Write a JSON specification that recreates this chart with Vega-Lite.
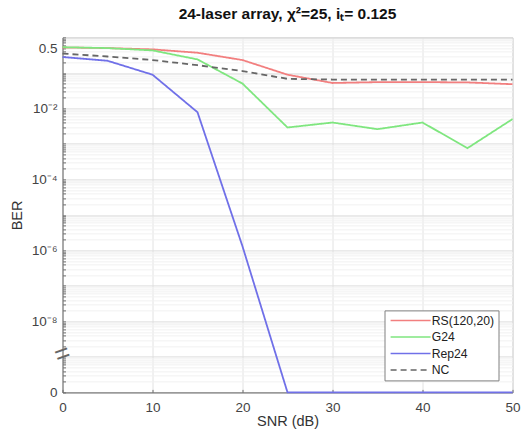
{
  "$schema": "https://vega.github.io/schema/vega-lite/v6.json",
  "width": 450,
  "height": 355,
  "autosize": {"type": "none"},
  "padding": {"left": 62.5, "top": 37.4, "right": 12.5, "bottom": 48.6},
  "background": "white",
  "title": {
    "text": "24-laser array, χ²=25, iₜ= 0.125",
    "font": "Liberation Sans",
    "fontSize": 15.5,
    "fontWeight": "bold",
    "color": "#111111",
    "anchor": "middle",
    "frame": "group",
    "baseline": "bottom",
    "offset": -7
  },
  "config": {
    "view": {"stroke": "#c8c8c8", "strokeWidth": 1},
    "axis": {
      "domainColor": "#6e6e6e",
      "tickColor": "#6e6e6e",
      "labelColor": "#444444",
      "titleColor": "#333333",
      "labelFont": "Liberation Sans",
      "titleFont": "Liberation Sans",
      "labelFontSize": 13.5,
      "titleFontSize": 14.5,
      "titleFontWeight": "normal",
      "labelFlush": false,
      "labelOverlap": false
    }
  },
  "layer": [
    {
      "data": {
        "values": [
          {"snr": 0, "ber": 0.52, "series": "RS(120,20)"},
          {"snr": 5, "ber": 0.5, "series": "RS(120,20)"},
          {"snr": 10, "ber": 0.46, "series": "RS(120,20)"},
          {"snr": 15, "ber": 0.37, "series": "RS(120,20)"},
          {"snr": 20, "ber": 0.23, "series": "RS(120,20)"},
          {"snr": 25, "ber": 0.089, "series": "RS(120,20)"},
          {"snr": 30, "ber": 0.052, "series": "RS(120,20)"},
          {"snr": 35, "ber": 0.055, "series": "RS(120,20)"},
          {"snr": 40, "ber": 0.055, "series": "RS(120,20)"},
          {"snr": 45, "ber": 0.054, "series": "RS(120,20)"},
          {"snr": 50, "ber": 0.048, "series": "RS(120,20)"},
          {"snr": 0, "ber": 0.53, "series": "G24"},
          {"snr": 5, "ber": 0.5, "series": "G24"},
          {"snr": 10, "ber": 0.43, "series": "G24"},
          {"snr": 15, "ber": 0.24, "series": "G24"},
          {"snr": 20, "ber": 0.05, "series": "G24"},
          {"snr": 25, "ber": 0.0029, "series": "G24"},
          {"snr": 30, "ber": 0.004, "series": "G24"},
          {"snr": 35, "ber": 0.0026, "series": "G24"},
          {"snr": 40, "ber": 0.004, "series": "G24"},
          {"snr": 45, "ber": 0.00076, "series": "G24"},
          {"snr": 50, "ber": 0.005, "series": "G24"},
          {"snr": 0, "ber": 0.28, "series": "Rep24"},
          {"snr": 5, "ber": 0.22, "series": "Rep24"},
          {"snr": 10, "ber": 0.089, "series": "Rep24"},
          {"snr": 15, "ber": 0.0078, "series": "Rep24"},
          {"snr": 20, "ber": 1.3e-6, "series": "Rep24"},
          {"snr": 25, "ber": 0, "series": "Rep24"},
          {"snr": 30, "ber": 0, "series": "Rep24"},
          {"snr": 35, "ber": 0, "series": "Rep24"},
          {"snr": 40, "ber": 0, "series": "Rep24"},
          {"snr": 45, "ber": 0, "series": "Rep24"},
          {"snr": 50, "ber": 0, "series": "Rep24"},
          {"snr": 0, "ber": 0.35, "series": "NC"},
          {"snr": 5, "ber": 0.29, "series": "NC"},
          {"snr": 10, "ber": 0.23, "series": "NC"},
          {"snr": 15, "ber": 0.165, "series": "NC"},
          {"snr": 20, "ber": 0.113, "series": "NC"},
          {"snr": 25, "ber": 0.068, "series": "NC"},
          {"snr": 30, "ber": 0.065, "series": "NC"},
          {"snr": 35, "ber": 0.065, "series": "NC"},
          {"snr": 40, "ber": 0.065, "series": "NC"},
          {"snr": 45, "ber": 0.065, "series": "NC"},
          {"snr": 50, "ber": 0.065, "series": "NC"}
        ]
      },
      "transform": [
        {"calculate": "datum.ber == 0 ? 1e-10 : datum.ber", "as": "ber_plot"}
      ],
      "mark": {"type": "line", "strokeWidth": 1.8},
      "encoding": {
        "x": {
          "field": "snr",
          "type": "quantitative",
          "scale": {"domain": [0, 50], "nice": false},
          "axis": {
            "title": "SNR (dB)",
            "values": [0, 10, 20, 30, 40, 50],
            "grid": true,
            "gridColor": "#e2e2e2",
            "tickSize": -3,
            "labelPadding": 11.3,
            "titleY": 22,
            "titleBaseline": "top"
          }
        },
        "y": {
          "field": "ber_plot",
          "type": "quantitative",
          "scale": {"type": "log", "domain": [1e-10, 1], "nice": false},
          "axis": {
            "title": "BER",
            "tickCount": 20,
            "grid": true,
            "gridColor": {
              "condition": {
                "test": "abs(log(datum.value)/LN10 - round(log(datum.value)/LN10)) < 1e-6",
                "value": "#dcdcdc"
              },
              "value": "#f1f1f1"
            },
            "tickSize": -3,
            "labelPadding": 8.5,
            "labelExpr": "datum.value < 1.5e-10 ? '0' : abs(datum.value - 0.5) < 1e-9 ? '0.5' : abs(datum.value / 1e-2 - 1) < 1e-6 ? '10⁻²' : abs(datum.value / 1e-4 - 1) < 1e-6 ? '10⁻⁴' : abs(datum.value / 1e-6 - 1) < 1e-6 ? '10⁻⁶' : abs(datum.value / 1e-8 - 1) < 1e-6 ? '10⁻⁸' : ''",
            "titleX": -45,
            "titleY": 177.5,
            "titleAngle": -90,
            "titleAlign": "center",
            "titleBaseline": "middle"
          }
        },
        "color": {
          "field": "series",
          "type": "nominal",
          "scale": {
            "domain": ["RS(120,20)", "G24", "Rep24", "NC"],
            "range": ["#f27f7f", "#7fe67f", "#7070e8", "#666666"]
          },
          "legend": {
            "orient": "none",
            "legendX": 322,
            "legendY": 273,
            "title": null,
            "symbolType": "M-1,0H9",
            "symbolSize": 64,
            "symbolStrokeWidth": 1.5,
            "labelOffset": 31,
            "labelFont": "Liberation Sans",
            "labelFontSize": 12.2,
            "labelColor": "#222222",
            "padding": 4,
            "rowPadding": 3.5,
            "strokeColor": "#808080",
            "fillColor": "white"
          }
        },
        "strokeDash": {
          "field": "series",
          "type": "nominal",
          "scale": {
            "domain": ["RS(120,20)", "G24", "Rep24", "NC"],
            "range": [[1, 0], [1, 0], [1, 0], [6, 4]]
          },
          "legend": null
        }
      }
    },
    {
      "data": {"values": [{"label": "="}]},
      "mark": {"type": "text", "fontSize": 26, "angle": -20, "color": "#666666", "font": "Liberation Sans", "fontWeight": "normal"},
      "encoding": {
        "text": {"field": "label"},
        "x": {"datum": 0, "type": "quantitative"},
        "y": {"datum": 1.2e-9, "type": "quantitative"}
      }
    }
  ]
}
